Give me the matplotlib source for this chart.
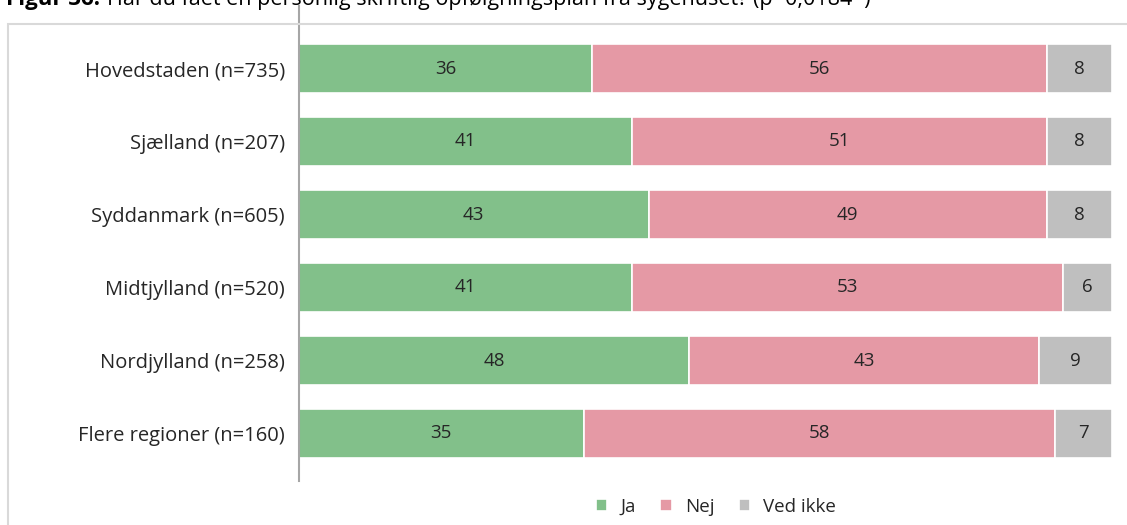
import matplotlib.pyplot as plt
from matplotlib.patches import Rectangle

plt.rcParams['font.family'] = ['Open Sans', 'DejaVu Sans']

regions = ["Hovedstaden (n=735)", "Sjælland (n=207)", "Syddanmark (n=605)",
           "Midtjylland (n=520)", "Nordjylland (n=258)", "Flere regioner (n=160)"]
ja = [36, 41, 43, 41, 48, 35]
nej = [56, 51, 49, 53, 43, 58]
ved_ikke = [8, 8, 8, 6, 9, 7]
series_names = ["Ja", "Nej", "Ved ikke"]
colors = ["#82C08A", "#E599A5", "#BFBFBF"]

W, H = 1127, 525
fig = plt.figure(figsize=(W / 100, H / 100), dpi=100)

# outer chart frame
fig.add_artist(Rectangle((8 / W, -0.1), 1.2, (H - 24) / H + 0.1,
                         transform=fig.transFigure, fill=False,
                         edgecolor="#D9D9D9", linewidth=1.5))

# title line (partly above the top edge)
fig.text(6 / W, 1 - 5 / H, "Figur 36.", fontsize=16, fontweight="bold",
         va="baseline", ha="left", color="#000000")
fig.text(107 / W, 1 - 5 / H,
         "Har du fået en personlig skriftlig opfølgningsplan fra sygehuset? (p=0,0184*)",
         fontsize=15.5, va="baseline", ha="left", color="#000000")

ax = fig.add_axes([299 / W, 1 - 470 / H, (1112 - 299) / W, (470 - 32) / H])
y = list(range(len(regions)))
values = [ja, nej, ved_ikke]
left = [0] * len(regions)
for name, vals, col in zip(series_names, values, colors):
    bars = ax.barh(y, vals, left=left, height=0.68, color=col,
                   edgecolor="white", linewidth=1.2, label=name)
    for b, v, l in zip(bars, vals, left):
        ax.text(l + v / 2, b.get_y() + b.get_height() / 2, f"{v}",
                ha="center", va="center", fontsize=13.5, color="#262626")
    left = [a + b for a, b in zip(left, vals)]

ax.set_xlim(0, 100)
ax.set_ylim(len(regions) - 0.5, -0.5)
ax.set_yticks(y)
ax.set_yticklabels(regions, fontsize=14.5, color="#262626")
ax.tick_params(axis="y", length=0, pad=10)
ax.set_xticks([])
for s in ["top", "right", "bottom"]:
    ax.spines[s].set_visible(False)
ax.spines["left"].set_color("#A6A6A6")
ax.spines["left"].set_linewidth(1.5)
ax.spines["left"].set_bounds(len(regions) - 0.35, -0.85)

leg = fig.legend(loc="center", bbox_to_anchor=(716 / W, 1 - 507 / H), ncol=3,
                 frameon=False, fontsize=13.5, handlelength=0.6, handleheight=0.6,
                 handletextpad=0.7, columnspacing=1.3)
for t in leg.get_texts():
    t.set_color("#262626")

fig.savefig("out.png", dpi=100)
